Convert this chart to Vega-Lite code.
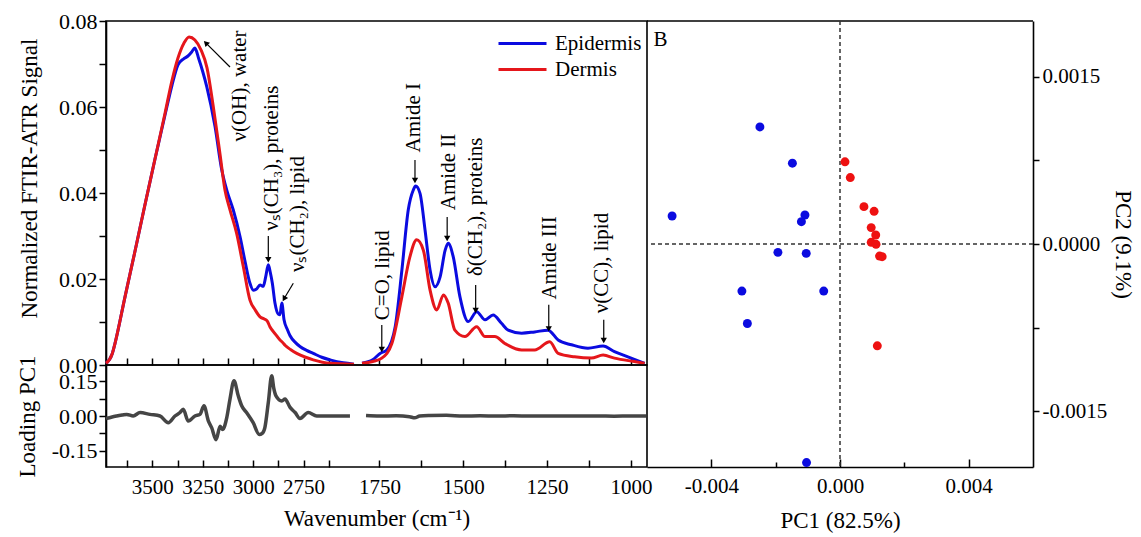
{
  "$schema": "https://vega.github.io/schema/vega-lite/v6.json",
  "padding": {"left": 15, "top": 9, "right": 2, "bottom": 5},
  "background": "white",
  "datasets": {
    "spectra": [
      {"sample":"Epidermis","seg":"L","wn":3730,"v":0.0004},{"sample":"Epidermis","seg":"L","wn":3700,"v":0.0025},{"sample":"Epidermis","seg":"L","wn":3685,"v":0.0051},{"sample":"Epidermis","seg":"L","wn":3636,"v":0.0158},{"sample":"Epidermis","seg":"L","wn":3586,"v":0.0265},{"sample":"Epidermis","seg":"L","wn":3537,"v":0.0372},{"sample":"Epidermis","seg":"L","wn":3487,"v":0.0479},{"sample":"Epidermis","seg":"L","wn":3437,"v":0.0582},{"sample":"Epidermis","seg":"L","wn":3403,"v":0.0650},{"sample":"Epidermis","seg":"L","wn":3373,"v":0.0698},{"sample":"Epidermis","seg":"L","wn":3345,"v":0.0712},{"sample":"Epidermis","seg":"L","wn":3325,"v":0.0718},{"sample":"Epidermis","seg":"L","wn":3305,"v":0.0728},{"sample":"Epidermis","seg":"L","wn":3289,"v":0.0737},{"sample":"Epidermis","seg":"L","wn":3270,"v":0.0712},{"sample":"Epidermis","seg":"L","wn":3250,"v":0.0682},{"sample":"Epidermis","seg":"L","wn":3230,"v":0.0647},{"sample":"Epidermis","seg":"L","wn":3189,"v":0.0554},{"sample":"Epidermis","seg":"L","wn":3156,"v":0.0454},{"sample":"Epidermis","seg":"L","wn":3130,"v":0.0405},{"sample":"Epidermis","seg":"L","wn":3099,"v":0.0361},{"sample":"Epidermis","seg":"L","wn":3065,"v":0.0298},{"sample":"Epidermis","seg":"L","wn":3040,"v":0.0240},{"sample":"Epidermis","seg":"L","wn":3016,"v":0.0190},{"sample":"Epidermis","seg":"L","wn":2999,"v":0.0174},{"sample":"Epidermis","seg":"L","wn":2985,"v":0.0176},{"sample":"Epidermis","seg":"L","wn":2966,"v":0.0186},{"sample":"Epidermis","seg":"L","wn":2950,"v":0.0183},{"sample":"Epidermis","seg":"L","wn":2938,"v":0.0205},{"sample":"Epidermis","seg":"L","wn":2925,"v":0.0233},{"sample":"Epidermis","seg":"L","wn":2915,"v":0.0215},{"sample":"Epidermis","seg":"L","wn":2905,"v":0.0190},{"sample":"Epidermis","seg":"L","wn":2892,"v":0.0144},{"sample":"Epidermis","seg":"L","wn":2875,"v":0.0118},{"sample":"Epidermis","seg":"L","wn":2867,"v":0.0117},{"sample":"Epidermis","seg":"L","wn":2858,"v":0.0144},{"sample":"Epidermis","seg":"L","wn":2847,"v":0.0105},{"sample":"Epidermis","seg":"L","wn":2830,"v":0.0082},{"sample":"Epidermis","seg":"L","wn":2817,"v":0.0068},{"sample":"Epidermis","seg":"L","wn":2790,"v":0.0052},{"sample":"Epidermis","seg":"L","wn":2768,"v":0.0043},{"sample":"Epidermis","seg":"L","wn":2735,"v":0.0034},{"sample":"Epidermis","seg":"L","wn":2702,"v":0.0027},{"sample":"Epidermis","seg":"L","wn":2660,"v":0.0018},{"sample":"Epidermis","seg":"L","wn":2619,"v":0.0012},{"sample":"Epidermis","seg":"L","wn":2553,"v":0.0005},{"sample":"Epidermis","seg":"L","wn":2500,"v":0.0002},
      {"sample":"Epidermis","seg":"R","wn":1802,"v":0.0004},{"sample":"Epidermis","seg":"R","wn":1770,"v":0.0012},{"sample":"Epidermis","seg":"R","wn":1748,"v":0.0027},{"sample":"Epidermis","seg":"R","wn":1728,"v":0.0035},{"sample":"Epidermis","seg":"R","wn":1703,"v":0.0089},{"sample":"Epidermis","seg":"R","wn":1683,"v":0.0221},{"sample":"Epidermis","seg":"R","wn":1664,"v":0.0361},{"sample":"Epidermis","seg":"R","wn":1649,"v":0.0407},{"sample":"Epidermis","seg":"R","wn":1642,"v":0.0416},{"sample":"Epidermis","seg":"R","wn":1629,"v":0.0399},{"sample":"Epidermis","seg":"R","wn":1614,"v":0.0314},{"sample":"Epidermis","seg":"R","wn":1599,"v":0.0221},{"sample":"Epidermis","seg":"R","wn":1584,"v":0.0182},{"sample":"Epidermis","seg":"R","wn":1569,"v":0.0205},{"sample":"Epidermis","seg":"R","wn":1554,"v":0.0267},{"sample":"Epidermis","seg":"R","wn":1545,"v":0.0283},{"sample":"Epidermis","seg":"R","wn":1530,"v":0.0252},{"sample":"Epidermis","seg":"R","wn":1510,"v":0.0159},{"sample":"Epidermis","seg":"R","wn":1485,"v":0.0101},{"sample":"Epidermis","seg":"R","wn":1460,"v":0.0124},{"sample":"Epidermis","seg":"R","wn":1435,"v":0.0105},{"sample":"Epidermis","seg":"R","wn":1411,"v":0.0116},{"sample":"Epidermis","seg":"R","wn":1386,"v":0.0097},{"sample":"Epidermis","seg":"R","wn":1366,"v":0.0081},{"sample":"Epidermis","seg":"R","wn":1326,"v":0.0074},{"sample":"Epidermis","seg":"R","wn":1287,"v":0.0077},{"sample":"Epidermis","seg":"R","wn":1247,"v":0.0081},{"sample":"Epidermis","seg":"R","wn":1217,"v":0.0058},{"sample":"Epidermis","seg":"R","wn":1177,"v":0.0047},{"sample":"Epidermis","seg":"R","wn":1128,"v":0.0039},{"sample":"Epidermis","seg":"R","wn":1083,"v":0.0044},{"sample":"Epidermis","seg":"R","wn":1049,"v":0.0031},{"sample":"Epidermis","seg":"R","wn":1009,"v":0.0019},{"sample":"Epidermis","seg":"R","wn":959,"v":0.0004},
      {"sample":"Dermis","seg":"L","wn":3730,"v":0.0004},{"sample":"Dermis","seg":"L","wn":3700,"v":0.0025},{"sample":"Dermis","seg":"L","wn":3685,"v":0.0051},{"sample":"Dermis","seg":"L","wn":3636,"v":0.0158},{"sample":"Dermis","seg":"L","wn":3586,"v":0.0265},{"sample":"Dermis","seg":"L","wn":3537,"v":0.0372},{"sample":"Dermis","seg":"L","wn":3487,"v":0.0479},{"sample":"Dermis","seg":"L","wn":3437,"v":0.0586},{"sample":"Dermis","seg":"L","wn":3403,"v":0.0661},{"sample":"Dermis","seg":"L","wn":3373,"v":0.0714},{"sample":"Dermis","seg":"L","wn":3343,"v":0.0749},{"sample":"Dermis","seg":"L","wn":3318,"v":0.0763},{"sample":"Dermis","seg":"L","wn":3289,"v":0.0756},{"sample":"Dermis","seg":"L","wn":3259,"v":0.0733},{"sample":"Dermis","seg":"L","wn":3229,"v":0.0691},{"sample":"Dermis","seg":"L","wn":3198,"v":0.0601},{"sample":"Dermis","seg":"L","wn":3165,"v":0.0492},{"sample":"Dermis","seg":"L","wn":3140,"v":0.0407},{"sample":"Dermis","seg":"L","wn":3115,"v":0.0361},{"sample":"Dermis","seg":"L","wn":3082,"v":0.0306},{"sample":"Dermis","seg":"L","wn":3049,"v":0.0229},{"sample":"Dermis","seg":"L","wn":3016,"v":0.0151},{"sample":"Dermis","seg":"L","wn":2990,"v":0.0128},{"sample":"Dermis","seg":"L","wn":2966,"v":0.0112},{"sample":"Dermis","seg":"L","wn":2945,"v":0.0107},{"sample":"Dermis","seg":"L","wn":2930,"v":0.0102},{"sample":"Dermis","seg":"L","wn":2917,"v":0.0089},{"sample":"Dermis","seg":"L","wn":2890,"v":0.0072},{"sample":"Dermis","seg":"L","wn":2867,"v":0.0058},{"sample":"Dermis","seg":"L","wn":2855,"v":0.0053},{"sample":"Dermis","seg":"L","wn":2842,"v":0.0046},{"sample":"Dermis","seg":"L","wn":2815,"v":0.0036},{"sample":"Dermis","seg":"L","wn":2784,"v":0.0027},{"sample":"Dermis","seg":"L","wn":2740,"v":0.0018},{"sample":"Dermis","seg":"L","wn":2702,"v":0.0012},{"sample":"Dermis","seg":"L","wn":2619,"v":0.0004},{"sample":"Dermis","seg":"L","wn":2500,"v":0.0002},
      {"sample":"Dermis","seg":"R","wn":1802,"v":0.0004},{"sample":"Dermis","seg":"R","wn":1770,"v":0.0008},{"sample":"Dermis","seg":"R","wn":1743,"v":0.0016},{"sample":"Dermis","seg":"R","wn":1713,"v":0.0050},{"sample":"Dermis","seg":"R","wn":1683,"v":0.0159},{"sample":"Dermis","seg":"R","wn":1659,"v":0.0252},{"sample":"Dermis","seg":"R","wn":1639,"v":0.0291},{"sample":"Dermis","seg":"R","wn":1619,"v":0.0267},{"sample":"Dermis","seg":"R","wn":1599,"v":0.0174},{"sample":"Dermis","seg":"R","wn":1579,"v":0.0128},{"sample":"Dermis","seg":"R","wn":1559,"v":0.0163},{"sample":"Dermis","seg":"R","wn":1545,"v":0.0144},{"sample":"Dermis","seg":"R","wn":1525,"v":0.0081},{"sample":"Dermis","seg":"R","wn":1495,"v":0.0066},{"sample":"Dermis","seg":"R","wn":1460,"v":0.0089},{"sample":"Dermis","seg":"R","wn":1435,"v":0.0066},{"sample":"Dermis","seg":"R","wn":1406,"v":0.0066},{"sample":"Dermis","seg":"R","wn":1376,"v":0.0050},{"sample":"Dermis","seg":"R","wn":1326,"v":0.0035},{"sample":"Dermis","seg":"R","wn":1287,"v":0.0035},{"sample":"Dermis","seg":"R","wn":1242,"v":0.0054},{"sample":"Dermis","seg":"R","wn":1217,"v":0.0027},{"sample":"Dermis","seg":"R","wn":1168,"v":0.0019},{"sample":"Dermis","seg":"R","wn":1118,"v":0.0016},{"sample":"Dermis","seg":"R","wn":1083,"v":0.0023},{"sample":"Dermis","seg":"R","wn":1049,"v":0.0016},{"sample":"Dermis","seg":"R","wn":990,"v":0.0008},{"sample":"Dermis","seg":"R","wn":959,"v":0.0004}
    ],
    "loading": [
      {"seg":"L","wn":3730,"v":-0.011},{"seg":"L","wn":3700,"v":-0.004},{"seg":"L","wn":3677,"v":0.0},{"seg":"L","wn":3650,"v":0.004},{"seg":"L","wn":3627,"v":0.007},{"seg":"L","wn":3595,"v":0.0},{"seg":"L","wn":3561,"v":0.015},{"seg":"L","wn":3512,"v":0.007},{"seg":"L","wn":3462,"v":0.0},{"seg":"L","wn":3421,"v":-0.029},{"seg":"L","wn":3388,"v":0.0},{"seg":"L","wn":3363,"v":0.015},{"seg":"L","wn":3347,"v":0.029},{"seg":"L","wn":3322,"v":-0.022},{"seg":"L","wn":3289,"v":0.0},{"seg":"L","wn":3264,"v":0.007},{"seg":"L","wn":3244,"v":0.044},{"seg":"L","wn":3222,"v":-0.022},{"seg":"L","wn":3206,"v":-0.05},{"seg":"L","wn":3184,"v":-0.102},{"seg":"L","wn":3164,"v":-0.044},{"seg":"L","wn":3151,"v":-0.058},{"seg":"L","wn":3131,"v":-0.007},{"seg":"L","wn":3115,"v":0.073},{"seg":"L","wn":3095,"v":0.152},{"seg":"L","wn":3074,"v":0.087},{"seg":"L","wn":3057,"v":0.044},{"seg":"L","wn":3033,"v":0.015},{"seg":"L","wn":3000,"v":-0.029},{"seg":"L","wn":2970,"v":-0.08},{"seg":"L","wn":2955,"v":-0.075},{"seg":"L","wn":2942,"v":-0.05},{"seg":"L","wn":2925,"v":0.058},{"seg":"L","wn":2908,"v":0.174},{"seg":"L","wn":2898,"v":0.12},{"seg":"L","wn":2887,"v":0.087},{"seg":"L","wn":2858,"v":0.065},{"seg":"L","wn":2842,"v":0.073},{"seg":"L","wn":2817,"v":0.037},{"seg":"L","wn":2792,"v":0.015},{"seg":"L","wn":2768,"v":-0.011},{"seg":"L","wn":2727,"v":0.015},{"seg":"L","wn":2685,"v":0.0},{"seg":"L","wn":2603,"v":0.0},{"seg":"L","wn":2520,"v":0.0},
      {"seg":"R","wn":1790,"v":0.002},{"seg":"R","wn":1750,"v":0.0},{"seg":"R","wn":1700,"v":0.001},{"seg":"R","wn":1660,"v":-0.003},{"seg":"R","wn":1645,"v":-0.008},{"seg":"R","wn":1630,"v":0.0},{"seg":"R","wn":1600,"v":0.002},{"seg":"R","wn":1550,"v":0.003},{"seg":"R","wn":1500,"v":0.0},{"seg":"R","wn":1450,"v":0.001},{"seg":"R","wn":1400,"v":0.0},{"seg":"R","wn":1350,"v":0.001},{"seg":"R","wn":1300,"v":0.0},{"seg":"R","wn":1250,"v":0.0},{"seg":"R","wn":1200,"v":0.0},{"seg":"R","wn":1150,"v":0.0},{"seg":"R","wn":1100,"v":0.0},{"seg":"R","wn":1050,"v":-0.001},{"seg":"R","wn":1000,"v":0.0},{"seg":"R","wn":955,"v":0.0}
    ],
    "ann": [
      {"t":"ν(OH), water","wn":3065,"v":0.0649},
      {"t":"νₛ(CH₃), proteins","wn":2907,"v":0.0481},
      {"t":"νₛ(CH₂), lipid","wn":2778,"v":0.0351},
      {"t":"C=O, lipid","wn":1739,"v":0.0209},
      {"t":"Amide I","wn":1647,"v":0.0575},
      {"t":"Amide II","wn":1543,"v":0.0449},
      {"t":"δ(CH₂), proteins","wn":1462,"v":0.0368},
      {"t":"Amide III","wn":1241,"v":0.0249},
      {"t":"ν(CC), lipid","wn":1087,"v":0.0237}
    ],
    "arrowsV": [
      {"wn":2925,"v":0.0300,"v2":0.0245},
      {"wn":1743,"v":0.0093,"v2":0.0036},
      {"wn":1644,"v":0.0477,"v2":0.0429},
      {"wn":1548,"v":0.0344,"v2":0.0294},
      {"wn":1463,"v":0.0186,"v2":0.0127},
      {"wn":1245,"v":0.0140,"v2":0.0084},
      {"wn":1081,"v":0.0105,"v2":0.0057}
    ],
    "arrowsD": [
      {"name":"OH","wn":3115,"v":0.0693,"wn2":3235,"v2":0.0749},
      {"name":"CH2","wn":2801,"v":0.0190,"wn2":2847,"v2":0.0154}
    ],
    "pca": [
      {"sample":"Epidermis","pc1":-0.00249,"pc2":0.00105},
      {"sample":"Epidermis","pc1":-0.00148,"pc2":0.000725},
      {"sample":"Epidermis","pc1":-0.00522,"pc2":0.000251},
      {"sample":"Epidermis","pc1":-0.00109,"pc2":0.00026},
      {"sample":"Epidermis","pc1":-0.0012,"pc2":0.0002},
      {"sample":"Epidermis","pc1":-0.00193,"pc2":-0.000075},
      {"sample":"Epidermis","pc1":-0.00105,"pc2":-0.000084},
      {"sample":"Epidermis","pc1":-0.00305,"pc2":-0.000422},
      {"sample":"Epidermis","pc1":-0.000506,"pc2":-0.000422},
      {"sample":"Epidermis","pc1":-0.00288,"pc2":-0.000713},
      {"sample":"Epidermis","pc1":-0.00104,"pc2":-0.00196},
      {"sample":"Dermis","pc1":0.000155,"pc2":0.000737},
      {"sample":"Dermis","pc1":0.00032,"pc2":0.000596},
      {"sample":"Dermis","pc1":0.000744,"pc2":0.000335},
      {"sample":"Dermis","pc1":0.00106,"pc2":0.000293},
      {"sample":"Dermis","pc1":0.00097,"pc2":0.000147},
      {"sample":"Dermis","pc1":0.00111,"pc2":0.000081},
      {"sample":"Dermis","pc1":0.00097,"pc2":0.000015},
      {"sample":"Dermis","pc1":0.00112,"pc2":-0.000003},
      {"sample":"Dermis","pc1":0.00123,"pc2":-0.000108},
      {"sample":"Dermis","pc1":0.00131,"pc2":-0.000114},
      {"sample":"Dermis","pc1":0.00116,"pc2":-0.000913}
    ]
  },
  "columns": 2,
  "spacing": 0,
  "bounds": "flush",
  "resolve": {"scale": {"color": "independent"}, "legend": {"color": "independent"}},
  "concat": [
    {
      "width": 541,
      "height": 344,
      "encoding": {
        "x": {"field": "wn", "type": "quantitative",
          "scale": {"domain": [3730, 2495, 1805, 952], "range": [0, 249, 255, 541], "nice": false, "zero": false},
          "axis": {"title": null, "labels": false, "values": [3625, 3500, 3375, 3250, 3125, 3000, 2875, 2750, 2625, 1750, 1625, 1500, 1375, 1250, 1125, 1000], "tickSize": -7, "domain": false}},
        "y": {"field": "v", "type": "quantitative",
          "scale": {"domain": [0, 0.08], "nice": false, "zero": false},
          "axis": {"title": "Normalized FTIR-ATR Signal", "values": [0, 0.01, 0.02, 0.03, 0.04, 0.05, 0.06, 0.07, 0.08], "format": ".2f",
            "labelExpr": "indexof(['0.00','0.02','0.04','0.06','0.08'], datum.label) >= 0 ? datum.label : ''",
            "tickSize": 7, "labelFontSize": 22, "titlePadding": 17, "titleY": 157}}
      },
      "layer": [
        {"data": {"name": "spectra"},
         "mark": {"type": "line", "strokeWidth": 3, "interpolate": "monotone", "strokeJoin": "round"},
         "encoding": {
           "color": {"field": "sample", "type": "nominal",
             "scale": {"domain": ["Epidermis", "Dermis"], "range": ["#0b0be0", "#e5161b"]},
             "legend": {"orient": "none", "legendX": 403, "legendY": 9, "title": null, "symbolType": "M-2,0L2,0", "symbolStrokeWidth": 3, "symbolSize": 576, "labelFontSize": 21, "labelFont": "Liberation Serif", "labelColor": "black", "rowPadding": 2, "labelOffset": 19, "padding": 0}},
           "detail": {"field": "seg"}
         }},
        {"data": {"name": "arrowsV"}, "mark": {"type": "rule", "color": "black", "strokeWidth": 1.2},
         "encoding": {"y2": {"field": "v2"}}},
        {"data": {"name": "arrowsV"}, "mark": {"type": "point", "shape": "triangle-down", "filled": true, "color": "black", "size": 40, "opacity": 1},
         "encoding": {"y": {"field": "v2", "type": "quantitative"}}},
        {"data": {"name": "arrowsD"}, "mark": {"type": "rule", "color": "black", "strokeWidth": 1.2},
         "encoding": {"x2": {"field": "wn2"}, "y2": {"field": "v2"}}},
        {"data": {"name": "arrowsD"}, "transform": [{"filter": "datum.name == 'OH'"}],
         "mark": {"type": "point", "shape": "triangle-up", "angle": 315, "filled": true, "color": "black", "size": 40, "opacity": 1},
         "encoding": {"x": {"field": "wn2", "type": "quantitative"}, "y": {"field": "v2", "type": "quantitative"}}},
        {"data": {"name": "arrowsD"}, "transform": [{"filter": "datum.name == 'CH2'"}],
         "mark": {"type": "point", "shape": "triangle-up", "angle": 210, "filled": true, "color": "black", "size": 40, "opacity": 1},
         "encoding": {"x": {"field": "wn2", "type": "quantitative"}, "y": {"field": "v2", "type": "quantitative"}}},
        {"data": {"name": "ann"}, "mark": {"type": "text", "angle": 270, "align": "center", "baseline": "middle", "fontSize": 21, "font": "Liberation Serif", "color": "black"},
         "encoding": {"text": {"field": "t"}}},
        {"data": {"values": [{"t": "A"}]}, "mark": {"type": "text", "fontSize": 21, "font": "Liberation Serif", "color": "black", "align": "center", "baseline": "middle"},
         "encoding": {"text": {"field": "t"}, "x": {"datum": 3636}, "y": {"datum": 0.0751}}},
        {"data": {"values": [{}]}, "mark": {"type": "rect", "color": "white"},
         "encoding": {"x": {"datum": 2495}, "x2": {"datum": 1805}, "y": {"datum": 0.0016}, "y2": {"datum": -0.0016}}},
        {"data": {"values": [{}]}, "mark": {"type": "rect", "color": "white"},
         "encoding": {"x": {"datum": 2495}, "x2": {"datum": 1805}, "y": {"datum": 0.0816}, "y2": {"datum": 0.0784}}},
        {"data": {"values": [{"t": "//"}]}, "mark": {"type": "text", "fontSize": 24, "font": "Liberation Serif", "color": "black", "align": "center", "baseline": "middle"},
         "encoding": {"text": {"field": "t"}, "x": {"datum": 2150}, "y": {"datum": 0.08}}},
        {"data": {"values": [{"t": "//"}]}, "mark": {"type": "text", "fontSize": 24, "font": "Liberation Serif", "color": "black", "align": "center", "baseline": "middle"},
         "encoding": {"text": {"field": "t"}, "x": {"datum": 2150}, "y": {"datum": 0}}}
      ]
    },
    {
      "width": 386,
      "height": 344,
      "view": {"stroke": null},
      "layer": [
        {"data": {"values": [{}]}, "mark": {"type": "rule", "color": "black", "strokeWidth": 1.6},
         "encoding": {"y": {"datum": 0.002}}},
        {"data": {"values": [{}]}, "mark": {"type": "rule", "color": "#333333", "strokeWidth": 1.5, "strokeDash": [4, 3]},
         "encoding": {"x": {"datum": 0}, "y": {"datum": 0.002}, "y2": {"datum": -0.002}}},
        {"data": {"values": [{}]}, "mark": {"type": "rule", "color": "#333333", "strokeWidth": 1.5, "strokeDash": [4, 3]},
         "encoding": {"y": {"datum": 0}}},
        {"data": {"name": "pca"}, "mark": {"type": "circle", "size": 80, "opacity": 1},
         "encoding": {
           "x": {"field": "pc1", "type": "quantitative",
             "scale": {"domain": [-0.006, 0.006], "nice": false, "zero": false},
             "axis": {"title": "PC1 (82.5%)", "values": [-0.004, -0.002, 0, 0.002, 0.004], "format": ".3f",
               "labelExpr": "(datum.value == -0.004 || datum.value == 0 || datum.value == 0.004) ? replace(datum.label, '−', '-') : ''",
               "tickSize": {"condition": {"test": "datum.value == 0.002 || datum.value == -0.002", "value": -5}, "value": -8},
               "offset": 102, "labelPadding": 16, "titlePadding": 10, "domain": true}},
           "y": {"field": "pc2", "type": "quantitative",
             "scale": {"domain": [-0.002, 0.002], "range": [446, 0], "nice": false, "zero": false},
             "axis": {"orient": "right", "title": "PC2 (9.1%)", "values": [-0.0015, -0.00075, 0, 0.00075, 0.0015], "format": ".4f",
               "labelExpr": "(datum.value == -0.0015 || datum.value == 0 || datum.value == 0.0015) ? replace(datum.label, '−', '-') : ''",
               "tickSize": 6, "labelPadding": 3, "titlePadding": 4, "domain": true}},
           "color": {"field": "sample", "type": "nominal", "scale": {"domain": ["Epidermis", "Dermis"], "range": ["#0b0be0", "#ee1111"]}, "legend": null}}},
        {"data": {"values": [{"t": "B"}]}, "mark": {"type": "text", "fontSize": 21, "font": "Liberation Serif", "color": "black", "align": "center", "baseline": "middle"},
         "encoding": {"text": {"field": "t"}, "x": {"datum": -0.00558}, "y": {"datum": 0.00183}}}
      ]
    },
    {
      "width": 541,
      "height": 102,
      "encoding": {
        "x": {"field": "wn", "type": "quantitative",
          "scale": {"domain": [3730, 2495, 1805, 952], "range": [0, 249, 255, 541], "nice": false, "zero": false},
          "axis": {"title": "Wavenumber (cm⁻¹)", "values": [3625, 3500, 3375, 3250, 3125, 3000, 2875, 2750, 2625, 1750, 1625, 1500, 1375, 1250, 1125, 1000], "format": "d",
            "labelExpr": "indexof(['3500','3250','3000','2750','1750','1500','1250','1000'], datum.label) >= 0 ? datum.label : ''",
            "tickSize": -7, "labelPadding": 16, "titlePadding": 10, "domain": false}},
        "y": {"field": "v", "type": "quantitative",
          "scale": {"domain": [-0.22, 0.22], "nice": false, "zero": false},
          "axis": {"title": "Loading PC1", "values": [-0.15, -0.075, 0, 0.075, 0.15], "format": ".2f",
            "labelExpr": "(datum.value == -0.15 || datum.value == 0 || datum.value == 0.15) ? replace(datum.label, '−', '-') : ''",
            "tickSize": 7, "labelFontSize": 22, "titlePadding": 12}}
      },
      "layer": [
        {"data": {"name": "loading"}, "mark": {"type": "line", "color": "#454545", "strokeWidth": 3.5, "interpolate": "monotone"},
         "encoding": {"detail": {"field": "seg"}}},
        {"data": {"values": [{"t": "C"}]}, "mark": {"type": "text", "fontSize": 21, "font": "Liberation Serif", "color": "black", "align": "center", "baseline": "middle"},
         "encoding": {"text": {"field": "t"}, "x": {"datum": 3636}, "y": {"datum": 0.138}}},
        {"data": {"values": [{}]}, "mark": {"type": "rect", "color": "white"},
         "encoding": {"x": {"datum": 2495}, "x2": {"datum": 1805}, "y": {"datum": 0.227}, "y2": {"datum": 0.213}}},
        {"data": {"values": [{}]}, "mark": {"type": "rect", "color": "white"},
         "encoding": {"x": {"datum": 2495}, "x2": {"datum": 1805}, "y": {"datum": -0.213}, "y2": {"datum": -0.227}}},
        {"data": {"values": [{"t": "//"}]}, "mark": {"type": "text", "fontSize": 24, "font": "Liberation Serif", "color": "black", "align": "center", "baseline": "middle"},
         "encoding": {"text": {"field": "t"}, "x": {"datum": 2150}, "y": {"datum": 0.22}}},
        {"data": {"values": [{"t": "//"}]}, "mark": {"type": "text", "fontSize": 24, "font": "Liberation Serif", "color": "black", "align": "center", "baseline": "middle"},
         "encoding": {"text": {"field": "t"}, "x": {"datum": 2150}, "y": {"datum": -0.22}}}
      ]
    }
  ],
  "config": {
    "font": "Liberation Serif",
    "view": {"stroke": "black", "strokeWidth": 1.6},
    "axis": {"labelFont": "Liberation Serif", "titleFont": "Liberation Serif", "labelFontSize": 21, "titleFontSize": 23, "titleFontWeight": "normal",
      "labelColor": "black", "titleColor": "black", "domainColor": "black", "tickColor": "black", "grid": false, "domainWidth": 1.6, "tickWidth": 1.5,
      "labelFlush": false, "labelOverlap": false, "labelBound": false}
  }
}
